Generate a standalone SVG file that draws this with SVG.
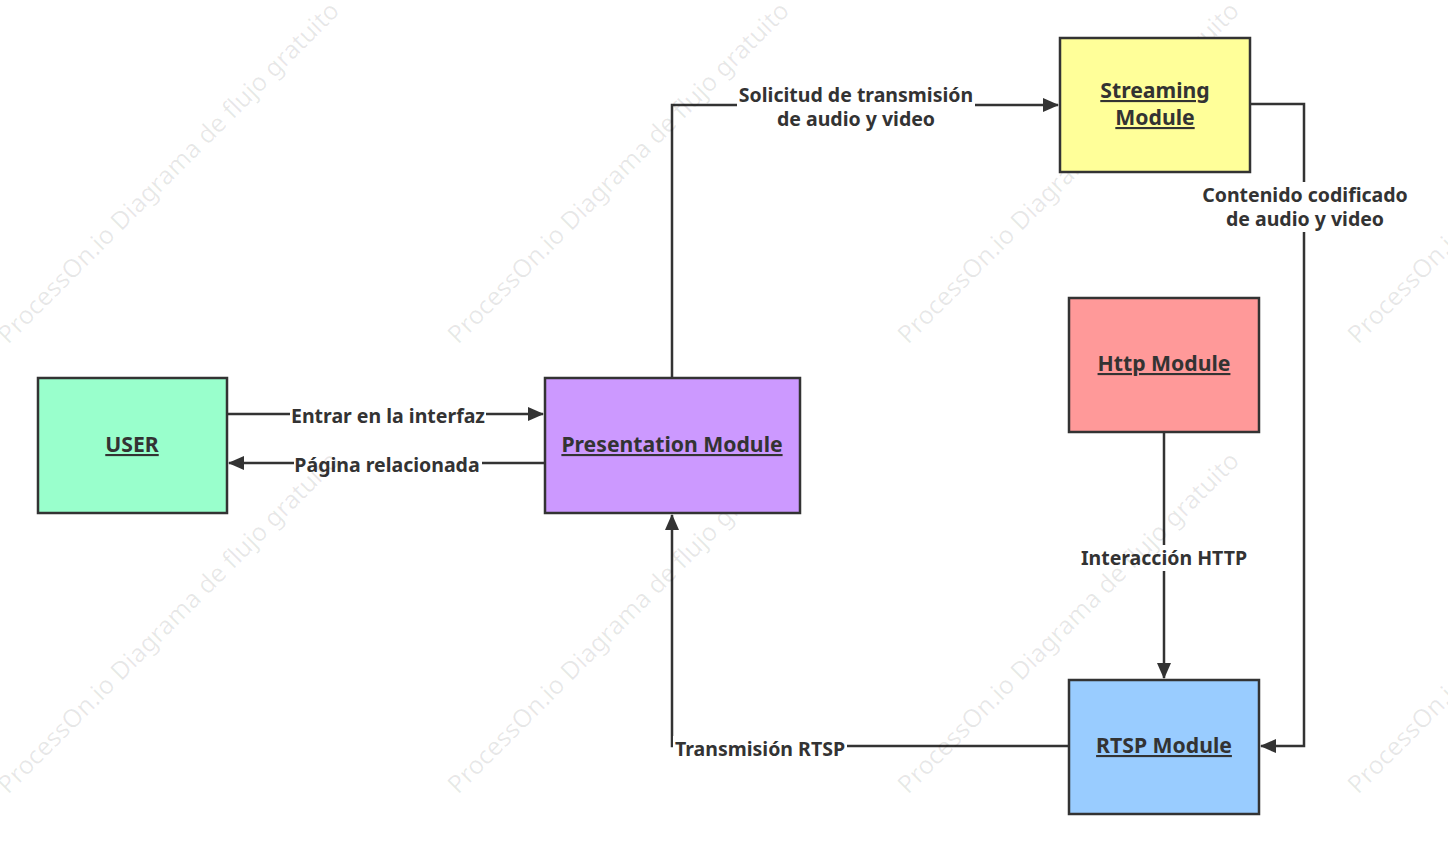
<svg xmlns="http://www.w3.org/2000/svg" width="1448" height="851" viewBox="0 0 1448 851">
<style>
.node{stroke:#333;stroke-width:2.5}
.nt{font-family:"Noto Sans","DejaVu Sans",sans-serif;font-weight:bold;font-size:21.2px;fill:#333;text-anchor:middle;text-decoration:underline}
.ln{fill:none;stroke:#333;stroke-width:2.5}
.lb{font-family:"Noto Sans","DejaVu Sans",sans-serif;font-weight:bold;font-size:19.5px;fill:#333;text-anchor:middle}
.wm{font-family:"Noto Sans","DejaVu Sans",sans-serif;font-size:25px;fill:#000;fill-opacity:0.09}
</style>
<defs><marker id="a" markerWidth="16" markerHeight="14" refX="15" refY="7" orient="auto" markerUnits="userSpaceOnUse" viewBox="0 0 16 14"><path d="M0,0L16,7L0,14z" fill="#333"/></marker></defs>
<rect width="1448" height="851" fill="#fff"/>
<g id="connectors">
<path class="ln" d="M227,414H543" marker-end="url(#a)"/>
<path class="ln" d="M545,463H229" marker-end="url(#a)"/>
<path class="ln" d="M672,378V105H1058" marker-end="url(#a)"/>
<path class="ln" d="M1250,104H1304V746H1261" marker-end="url(#a)"/>
<path class="ln" d="M1164,432V678" marker-end="url(#a)"/>
<path class="ln" d="M1069,746H672V515" marker-end="url(#a)"/>
<rect x="290" y="402" width="196" height="26" fill="#fff"/>
<text class="lb" x="388" y="423">Entrar en la interfaz</text>
<rect x="294" y="451" width="188" height="26" fill="#fff"/>
<text class="lb" x="387" y="472">Página relacionada</text>
<rect x="737" y="82" width="238" height="50" fill="#fff"/>
<text class="lb" x="856" y="102">Solicitud de transmisión</text>
<text class="lb" x="856" y="126">de audio y video</text>
<rect x="1198" y="182" width="214" height="50" fill="#fff"/>
<text class="lb" x="1305" y="202">Contenido codificado</text>
<text class="lb" x="1305" y="226">de audio y video</text>
<rect x="1080" y="545" width="170" height="26" fill="#fff"/>
<text class="lb" x="1164" y="565">Interacción HTTP</text>
<rect x="673" y="736" width="174" height="26" fill="#fff"/>
<text class="lb" x="760" y="756">Transmisión RTSP</text>
</g>
<g id="watermarks">
<text class="wm" transform="translate(8,345) rotate(-45)">ProcessOn.io Diagrama de flujo gratuito</text>
<text class="wm" transform="translate(458,345) rotate(-45)">ProcessOn.io Diagrama de flujo gratuito</text>
<text class="wm" transform="translate(908,345) rotate(-45)">ProcessOn.io Diagrama de flujo gratuito</text>
<text class="wm" transform="translate(1358,345) rotate(-45)">ProcessOn.io Diagrama de flujo gratuito</text>
<text class="wm" transform="translate(8,795) rotate(-45)">ProcessOn.io Diagrama de flujo gratuito</text>
<text class="wm" transform="translate(458,795) rotate(-45)">ProcessOn.io Diagrama de flujo gratuito</text>
<text class="wm" transform="translate(908,795) rotate(-45)">ProcessOn.io Diagrama de flujo gratuito</text>
<text class="wm" transform="translate(1358,795) rotate(-45)">ProcessOn.io Diagrama de flujo gratuito</text>
</g>
<g id="user"><rect class="node" x="38" y="378" width="189" height="135" fill="#99FFCC"/><text class="nt" x="132" y="452">USER</text></g>
<g id="presentation"><rect class="node" x="545" y="378" width="255" height="135" fill="#CC99FF"/><text class="nt" x="672" y="452">Presentation Module</text></g>
<g id="streaming"><rect class="node" x="1060" y="38" width="190" height="134" fill="#FFFF99"/><text class="nt" x="1155" y="98">Streaming</text><text class="nt" x="1155" y="125">Module</text></g>
<g id="http"><rect class="node" x="1069" y="298" width="190" height="134" fill="#FF9999"/><text class="nt" x="1164" y="371">Http Module</text></g>
<g id="rtsp"><rect class="node" x="1069" y="680" width="190" height="134" fill="#99CCFF"/><text class="nt" x="1164" y="753">RTSP Module</text></g>
</svg>
